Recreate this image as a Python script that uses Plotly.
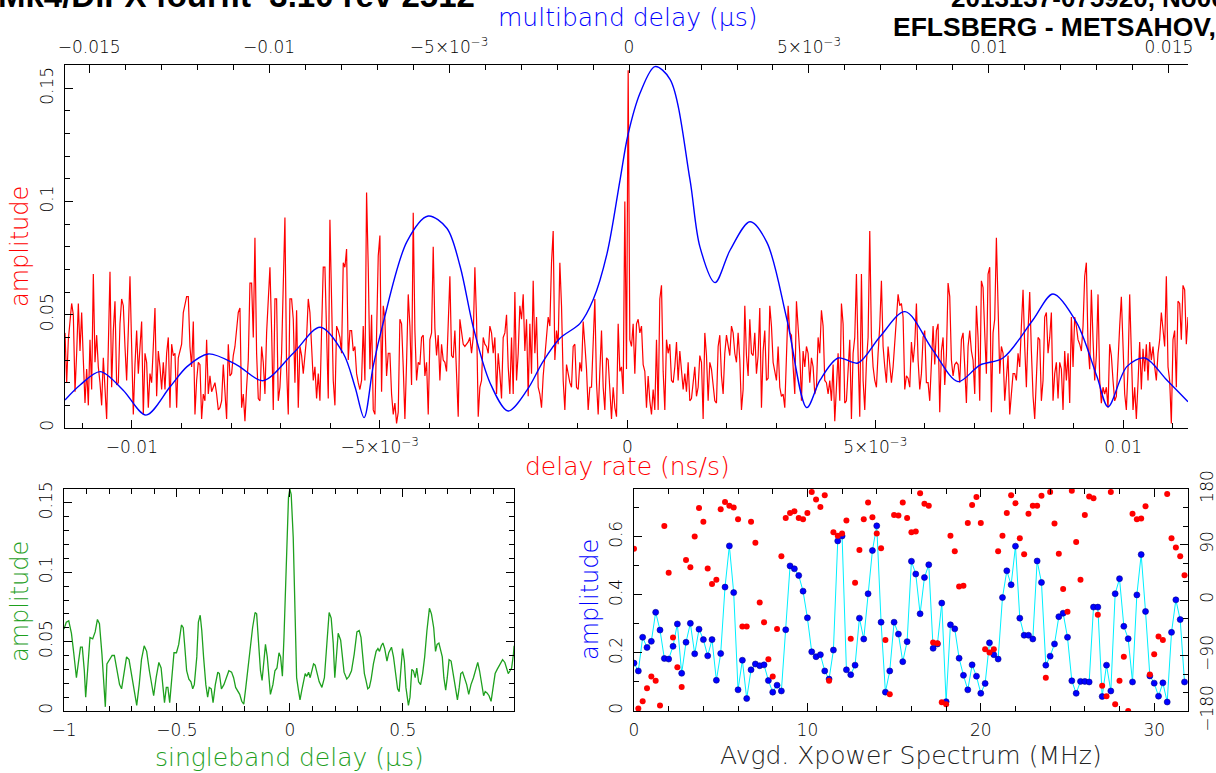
import numpy as np
import plotly.graph_objects as go

W, H = 1216, 773
FONT = "DejaVu Sans"
HEAD_FONT = "Liberation Sans"
RED, BLUE, GREEN, CYAN = "#ff0000", "#0000ff", "#1ea01e", "#00f0ff"

# ---------------------------------------------------------------------------
# Delay-rate amplitude (red), in units of 1e-3, on uniform delay-rate bins (ns/s)
rate_first, rate_last = -0.01135, 0.01131
rate_amp_milli = [
    42, 20, 39, 48, 55, 50, 16, 33, 55, 34, 51, 30, 11, 26, 10, 39, 17, 68, 29, 41,
    27, 20, 10, 31, 18, 4, 36, 69, 18, 43, 56, 19, 20, 46, 57, 54, 36, 21, 43, 67,
    36, 6, 28, 43, 24, 36, 47, 6, 33, 29, 9, 24, 20, 36, 53, 14, 34, 27, 17, 29,
    17, 33, 40, 9, 37, 32, 33, 9, 31, 34, 37, 51, 54, 58, 58, 36, 27, 47, 6, 21,
    29, 28, 4, 15, 12, 39, 15, 23, 16, 18, 20, 15, 8, 9, 12, 28, 14, 4, 37, 23,
    24, 32, 36, 45, 51, 53, 9, 15, 3, 18, 30, 64, 64, 40, 84, 33, 13, 12, 36, 29,
    15, 42, 58, 71, 43, 8, 57, 57, 12, 18, 33, 65, 93, 26, 6, 57, 57, 48, 20, 52,
    9, 36, 32, 24, 33, 40, 57, 51, 36, 21, 27, 13, 24, 12, 43, 71, 71, 40, 13, 92,
    61, 21, 10, 45, 43, 40, 33, 73,
    71, 79, 30, 43, 43, 34, 36, 24, 20, 17, 21, 45, 21, 104, 71, 26, 50, 8, 6, 51,
    76, 85, 16, 54, 48, 23, 33, 33, 15, 6, 11, 2, 7, 48, 46, 27, 4, 29, 59, 45,
    19, 95, 43, 21, 29, 28, 40, 41, 23, 29, 6, 39, 42, 80, 44, 32, 41, 21, 37, 30,
    29, 25, 51, 67, 32, 31, 43, 27, 5, 48, 43, 37, 36, 37, 38, 40, 33, 40, 71, 48,
    5, 18, 21, 40, 37, 36, 33, 45, 42, 33, 40, 15, 33, 24, 13, 40, 42, 50, 27, 15,
    40, 15, 60, 21, 33, 54, 48, 59, 34, 48, 14, 46, 24, 65, 33, 49, 18, 15, 9, 23,
    33, 41, 49, 45, 73, 87, 30, 43, 37, 73, 54, 21, 8, 28, 23, 20, 18, 36, 37, 18,
    17, 29, 25, 47, 37, 26, 8, 18, 18, 43, 57, 20, 6, 25, 43, 18, 8, 31, 30, 17,
    4, 18, 9, 5, 46, 25, 27,
    15, 100, 26, 158, 39, 36, 46, 24, 46, 48, 42, 45, 28, 25, 9, 23, 12, 6, 17, 8,
    39, 8, 57, 63, 25, 8, 39, 33, 37, 21, 20, 27, 38, 21, 34, 27, 17, 24, 16, 29,
    12, 13, 21, 27, 14, 18, 32, 29, 4, 42, 32, 12, 29, 26, 19, 12, 11, 36, 41, 23,
    15, 33, 41, 37, 32, 45, 42, 33, 29, 42, 30, 8, 17, 54, 32, 23, 48, 33, 32, 42,
    24, 32, 53, 9, 34, 43, 21, 22, 54, 45, 29, 25, 21, 36, 18, 14, 15, 9, 36, 54,
    42, 41, 27, 15, 56, 44, 33, 12, 34, 27, 36, 33, 20, 31, 27, 15, 18, 40, 33, 52,
    45, 21, 20, 15, 21, 12, 28, 3, 21, 33, 12, 55, 46, 11, 12, 27, 39, 4, 33, 40,
    68, 32, 5, 68, 21, 8, 29, 40, 87, 40, 27, 21, 18, 33, 45, 65, 36, 27, 20, 36,
    27, 20, 27, 37, 45, 59, 54, 55, 49, 17,
    23, 22, 18, 38, 29, 37, 55, 30, 17, 24, 40, 43, 20, 20, 12, 30, 45, 28, 43, 46,
    7, 34, 40, 19, 32, 64, 58, 30, 23, 28, 29, 28, 20, 39, 42, 27, 11, 36, 43, 34,
    30, 15, 54, 40, 12, 65, 62, 42, 24, 68, 71, 7, 42, 48, 84, 54, 24, 36, 33, 12,
    21, 32, 6, 15, 24, 24, 21, 33, 27, 45, 61, 36, 18, 43, 60, 34, 14, 4, 25, 40,
    39, 12, 21, 49, 51, 33, 40, 51, 12, 24, 29, 13, 29, 26, 8, 34, 21, 33, 11, 49,
    27, 49, 45, 39, 37, 34, 45, 67, 73, 36, 26, 61, 39, 21, 32, 59, 21, 11, 18, 15,
    18, 9, 37, 32, 21, 12, 14, 32, 45, 58, 40, 15, 8, 26, 59, 27, 8, 18, 4, 20,
    38, 17, 35, 25, 37, 21, 38, 30, 36, 27, 21, 33, 39, 51, 43, 36, 67, 27, 21, 2,
    39, 43, 18, 56, 55, 39, 63, 61, 37, 49,
]

# Multiband delay amplitude (blue): delay in microseconds and amplitude
mbd_us = [
    -0.01567, -0.01525, -0.01469, -0.01406, -0.01342, -0.01275, -0.01228, -0.01169,
    -0.01089, -0.01017, -0.00933, -0.00858, -0.00794, -0.00761, -0.00736, -0.00711,
    -0.00683, -0.00617, -0.00558, -0.00506, -0.00469, -0.00433, -0.00386, -0.00336,
    -0.00283, -0.00239, -0.00192, -0.00136, -0.00100, -0.00061, -0.00025, -0.00003,
    0.00031, 0.00072, 0.00114, 0.00169, 0.00197, 0.00239, 0.00281, 0.00336,
    0.00383, 0.00439, 0.00494, 0.00531, 0.00581, 0.00636, 0.00697, 0.00767,
    0.00844, 0.00914, 0.00975, 0.01039, 0.01122, 0.01178, 0.01244, 0.01300,
    0.01331, 0.01383, 0.01433, 0.01494, 0.01553,
]
mbd_amp = [
    0.0124, 0.0190, 0.0249, 0.0168, 0.0057, 0.0182, 0.0271, 0.0327,
    0.0278, 0.0209, 0.0330, 0.0445, 0.0330, 0.0180, 0.0046, 0.0271,
    0.0464, 0.0823, 0.0936, 0.0882, 0.0712, 0.0447, 0.0199, 0.0075,
    0.0168, 0.0293, 0.0396, 0.0462, 0.0565, 0.0771, 0.1095, 0.1294,
    0.1480, 0.1596, 0.1540, 0.1100, 0.0800, 0.0642, 0.0786, 0.0911,
    0.0820, 0.0477, 0.0090, 0.0212, 0.0309, 0.0287, 0.0403, 0.0514,
    0.0344, 0.0205, 0.0278, 0.0309, 0.0477, 0.0592, 0.0464, 0.0227,
    0.0094, 0.0271, 0.0309, 0.0212, 0.0116,
]

# Singleband delay amplitude (green)
sbd_us = [
    -1.000, -0.990, -0.979, -0.967, -0.957, -0.945, -0.937, -0.927, -0.919, -0.910,
    -0.904, -0.895, -0.885, -0.873, -0.862, -0.852, -0.843, -0.832, -0.825, -0.817,
    -0.810, -0.799, -0.787, -0.777, -0.765, -0.754, -0.745, -0.735, -0.723, -0.712,
    -0.702, -0.690, -0.678, -0.667, -0.657, -0.645, -0.634, -0.622, -0.612, -0.603,
    -0.592, -0.580, -0.570, -0.562, -0.555, -0.547, -0.540, -0.532, -0.522, -0.513,
    -0.502, -0.492, -0.480, -0.472, -0.465, -0.457, -0.447, -0.438, -0.430, -0.423,
    -0.412, -0.405, -0.397, -0.390, -0.382, -0.372, -0.364, -0.357, -0.348, -0.340,
    -0.330, -0.319, -0.312, -0.303, -0.292, -0.282, -0.270, -0.258, -0.249, -0.240,
    -0.231, -0.222, -0.213, -0.204, -0.195, -0.184, -0.175, -0.165, -0.154, -0.147,
    -0.138, -0.130, -0.123, -0.115, -0.108, -0.100, -0.093, -0.086, -0.075, -0.066,
    -0.057, -0.048, -0.041, -0.033, -0.026, -0.015, -0.006, 0.000, 0.006, 0.015,
    0.024, 0.030, 0.038, 0.045, 0.053, 0.060, 0.068, 0.075, 0.083, 0.090,
    0.098, 0.105, 0.112, 0.120, 0.130, 0.142, 0.153, 0.165, 0.174, 0.183,
    0.192, 0.199, 0.207, 0.214, 0.225, 0.232, 0.240, 0.252, 0.262, 0.273,
    0.285, 0.297, 0.307, 0.315, 0.322, 0.330, 0.337, 0.345, 0.352, 0.360,
    0.370, 0.382, 0.390, 0.397, 0.405, 0.412, 0.420, 0.430, 0.438, 0.450,
    0.459, 0.468, 0.477, 0.484, 0.492, 0.499, 0.507, 0.514, 0.525, 0.532,
    0.540, 0.547, 0.555, 0.562, 0.570, 0.579, 0.588, 0.597, 0.607, 0.618,
    0.627, 0.637, 0.645, 0.652, 0.660, 0.667, 0.675, 0.682, 0.690, 0.697,
    0.705, 0.714, 0.723, 0.732, 0.742, 0.750, 0.757, 0.765, 0.774, 0.783,
    0.792, 0.802, 0.813, 0.822, 0.832, 0.840, 0.850, 0.858, 0.865, 0.873,
    0.882, 0.891, 0.900, 0.909, 0.918, 0.930, 0.942, 0.952, 0.960, 0.967,
    0.975, 0.982, 0.990, 0.993,
]
sbd_amp = [
    0.059, 0.064, 0.065, 0.056, 0.042, 0.024, 0.034, 0.046, 0.046, 0.029,
    0.010, 0.034, 0.053, 0.052, 0.057, 0.066, 0.063, 0.041, 0.019, 0.003,
    0.034, 0.037, 0.040, 0.040, 0.029, 0.019, 0.016, 0.027, 0.039, 0.037,
    0.027, 0.015, 0.004, 0.019, 0.037, 0.047, 0.043, 0.029, 0.019, 0.011,
    0.024, 0.035, 0.031, 0.019, 0.006, 0.017, 0.017, 0.006, 0.024, 0.042,
    0.042, 0.048, 0.062, 0.060, 0.046, 0.029, 0.023, 0.021, 0.016, 0.019,
    0.039, 0.064, 0.069, 0.058, 0.039, 0.019, 0.010, 0.017, 0.016, 0.006,
    0.019, 0.028, 0.027, 0.016, 0.019, 0.024, 0.029, 0.028, 0.024, 0.017,
    0.014, 0.012, 0.007, 0.005, 0.017, 0.034, 0.048, 0.060, 0.071, 0.070,
    0.048, 0.029, 0.022, 0.037, 0.048, 0.039, 0.022, 0.012, 0.019, 0.029,
    0.031, 0.042, 0.039, 0.025, 0.053, 0.113, 0.154, 0.160, 0.156, 0.125,
    0.070, 0.024, 0.015, 0.008, 0.015, 0.022, 0.027, 0.025, 0.028, 0.024,
    0.030, 0.034, 0.033, 0.028, 0.021, 0.017, 0.024, 0.051, 0.071, 0.067,
    0.049, 0.024, 0.042, 0.056, 0.051, 0.041, 0.028, 0.023, 0.025, 0.029,
    0.041, 0.057, 0.058, 0.053, 0.039, 0.027, 0.022, 0.016, 0.017, 0.023,
    0.034, 0.043, 0.045, 0.043, 0.047, 0.049, 0.045, 0.036, 0.042, 0.046,
    0.039, 0.029, 0.016, 0.014, 0.033, 0.045, 0.036, 0.017, 0.004, 0.010,
    0.030, 0.029, 0.024, 0.031, 0.021, 0.019, 0.027, 0.039, 0.058, 0.074,
    0.070, 0.060, 0.043, 0.048, 0.049, 0.045, 0.039, 0.024, 0.015, 0.024,
    0.037, 0.036, 0.027, 0.017, 0.008, 0.017, 0.027, 0.028, 0.024, 0.019,
    0.012, 0.019, 0.024, 0.029, 0.035, 0.029, 0.019, 0.011, 0.014, 0.013,
    0.011, 0.007, 0.017, 0.027, 0.030, 0.034, 0.037, 0.035, 0.030, 0.027,
    0.029, 0.031, 0.041, 0.047,
]

# Averaged cross-power spectrum: 128 channels of 0.25 MHz
spec_chan_mhz = 0.25
spec_amp = [
    0.165, 0.138, 0.254, 0.219, 0.240, 0.340, 0.279, 0.181, 0.179, 0.223,
    0.300, 0.130, 0.237, 0.302, 0.197, 0.282, 0.246, 0.190, 0.246, 0.106,
    0.198, 0.427, 0.569, 0.408, 0.073, 0.175, 0.043, 0.142, 0.162, 0.156,
    0.159, 0.105, 0.065, 0.089, 0.069, 0.280, 0.500, 0.490, 0.467, 0.413,
    0.321, 0.204, 0.187, 0.194, 0.138, 0.110, 0.210, 0.586, 0.603, 0.142,
    0.125, 0.158, 0.320, 0.248, 0.404, 0.553, 0.638, 0.306, 0.065, 0.138,
    0.306, 0.265, 0.170, 0.239, 0.516, 0.472, 0.335, 0.460, 0.504, 0.216,
    0.231, 0.372, 0.032, 0.297, 0.283, 0.182, 0.123, 0.073, 0.159, 0.120,
    0.061, 0.095, 0.235, 0.194, 0.179, 0.391, 0.483, 0.435, 0.568, 0.320,
    0.261, 0.261, 0.248, 0.517, 0.443, 0.158, 0.189, 0.231, 0.325, 0.337,
    0.254, 0.104, 0.061, 0.102, 0.102, 0.100, 0.358, 0.358, 0.050, 0.158,
    0.069, 0.404, 0.456, 0.292, 0.249, 0.100, 0.400, 0.539, 0.343, 0.121,
    0.096, 0.051, 0.097, 0.031, 0.271, 0.383, 0.315, 0.100,
]
spec_phase_deg = [
    83, -176, -164, -143, -124, -131, -171, 120, 44, -61,
    -109, -141, 65, 53, 103, 149, 127, 51, 26, 33,
    147, 159, 153, 150, 131, -43, -43, 127, 93, -4,
    -36, -96, -124, -47, 71, 133, 141, 144, 133, 131,
    141, 175, 163, 151, 170, -131, 110, 104, 108, 129,
    -63, 28, 81, 131, 158, 134, 108, 84, -65, -153,
    138, 137, 158, 133, 110, 111, 173, 156, 153, -69,
    -70, -166, -169, 104, 79, 22, 23, 125, 154, 167,
    125, -80, -85, -80, 79, 104, 141, 170, 157, 100,
    74, 140, 153, 153, 169, -126, 175, 124, 75, 18,
    -19, 177, 94, 33, 138, 168, 165, -24, -139, -156,
    175, -169, -131, -92, -180, 140, 131, 132, 152, -121,
    -88, -59, -65, 172, 100, 85, 71, 40,
]

# ---------------------------------------------------------------------------
rate_x = np.linspace(rate_first, rate_last, len(rate_amp_milli))
rate_y = np.asarray(rate_amp_milli) / 1000.0
freq_mhz = np.arange(len(spec_amp)) * spec_chan_mhz

fig = go.Figure()
fig.add_trace(go.Scatter(x=rate_x, y=rate_y, mode="lines",
                         line=dict(color=RED, width=1.2), xaxis="x", yaxis="y"))
fig.add_trace(go.Scatter(x=mbd_us, y=mbd_amp, mode="lines",
                         line=dict(color=BLUE, width=1.4, shape="spline", smoothing=0.9),
                         xaxis="x2", yaxis="y"))
fig.add_trace(go.Scatter(x=sbd_us, y=sbd_amp, mode="lines",
                         line=dict(color=GREEN, width=1.3), xaxis="x3", yaxis="y3"))
fig.add_trace(go.Scatter(x=freq_mhz, y=spec_amp, mode="lines+markers",
                         line=dict(color=CYAN, width=1),
                         marker=dict(color=BLUE, size=6, line=dict(width=0.6, color="#000090")),
                         xaxis="x4", yaxis="y4"))
fig.add_trace(go.Scatter(x=freq_mhz, y=spec_phase_deg, mode="markers",
                         marker=dict(color=RED, size=6, line=dict(width=0)),
                         xaxis="x4", yaxis="y5"))


def dom_x(left, right):
    return [left / W, right / W]


def dom_y(top, bottom):
    return [1 - bottom / H, 1 - top / H]


TICKFONT = dict(family=FONT, size=17, color="black", weight=300)


def axis(**kw):
    base = dict(showline=True, linecolor="black", linewidth=1, ticks="inside",
                ticklen=8, tickwidth=1, tickcolor="black", showgrid=False,
                zeroline=False, tickmode="array", tickfont=TICKFONT,
                fixedrange=True, automargin=False, ticklabelstandoff=4)
    base.update(kw)
    return base


def minor(step):
    return dict(ticks="inside", ticklen=5, tickwidth=1, tickcolor="black",
                tick0=0, dtick=step, showgrid=False)


SUP3 = "×10<sup>−3</sup>"
amp_ticks = [0, 0.05, 0.1, 0.15]
amp_text = ["0", "0.05", "0.1", "0.15"]

layout_axes = dict(
    # delay rate (bottom of the upper panel)
    xaxis=axis(domain=dom_x(65, 1188), anchor="y", range=[rate_first, rate_last],
               tickvals=[-0.01, -0.005, 0, 0.005, 0.01],
               ticktext=["−0.01", "−5" + SUP3, "0", "5" + SUP3, "0.01"],
               minor=minor(0.001)),
    # multiband delay (top of the upper panel)
    xaxis2=axis(overlaying="x", side="top", anchor="y", range=[-0.01567, 0.01553],
                tickvals=[-0.015, -0.01, -0.005, 0, 0.005, 0.01, 0.015],
                ticktext=["−0.015", "−0.01", "−5" + SUP3, "0", "5" + SUP3, "0.01", "0.015"],
                minor=minor(0.001)),
    yaxis=axis(domain=dom_y(65, 428), anchor="x", range=[0, 0.1603],
               tickvals=amp_ticks, ticktext=amp_text, tickangle=-90, minor=minor(0.01)),
    yaxis2=axis(overlaying="y", side="right", anchor="x", range=[0, 0.1603],
                tickvals=amp_ticks, ticktext=amp_text, tickangle=-90, minor=minor(0.01)),
    # singleband delay panel
    xaxis3=axis(domain=dom_x(64, 514), anchor="y3", range=[-1, 0.9925], mirror="ticks",
                tickvals=[-1, -0.5, 0, 0.5], ticktext=["−1", "−0.5", "0", "0.5"],
                minor=minor(0.1)),
    yaxis3=axis(domain=dom_y(489, 711), anchor="x3", range=[0, 0.16], mirror="ticks",
                tickvals=amp_ticks, ticktext=amp_text, tickangle=-90, minor=minor(0.01)),
    # cross-power spectrum panel
    xaxis4=axis(domain=dom_x(634, 1188), anchor="y4", range=[0, 31.95], mirror="ticks",
                tickvals=[0, 10, 20, 30], ticktext=["0", "10", "20", "30"],
                minor=minor(2)),
    yaxis4=axis(domain=dom_y(489, 711), anchor="x4", range=[0, 0.765], side="left",
                tickvals=[0, 0.2, 0.4, 0.6], ticktext=["0", "0.2", "0.4", "0.6"],
                tickangle=-90, minor=minor(0.1)),
    yaxis5=axis(overlaying="y4", side="right", anchor="x4", range=[-180, 180],
                tickvals=[-180, -90, 0, 90, 180],
                ticktext=["−180", "−90", "0", "90", "180"],
                tickangle=-90, minor=minor(30)),
)


def label(text, x, y, color, size=24, angle=0, family=FONT, xanchor="center",
          yanchor="middle", weight=300):
    return dict(text=text, x=x / W, y=1 - y / H, xref="paper", yref="paper",
                showarrow=False, textangle=angle, xanchor=xanchor, yanchor=yanchor,
                font=dict(family=family, size=size, color=color, weight=weight))


annotations = [
    label("amplitude", 20, 247, RED, angle=-90),
    label("delay rate (ns/s)", 627, 466, RED, size=25),
    label("multiband delay (μs)", 627, 18, BLUE, size=25),
    label("amplitude", 20, 602, GREEN, angle=-90),
    label("singleband delay (μs)", 289, 757, GREEN, size=25),
    label("amplitude", 590, 600, BLUE, angle=-90),
    label("Avgd. Xpower Spectrum (MHz)", 911, 755, "#222222", size=25),
    label("Mk4/DiFX fourfit  3.10 rev 2512", 477, -4, "black", size=33,
          family=HEAD_FONT, xanchor="right", weight="bold"),
    label("2013137-075920, No0003, EM", 949, -2, "black", size=26,
          family=HEAD_FONT, xanchor="left", weight="bold"),
    label("EFLSBERG - METSAHOV, fgroup X, pol LL", 891, 27, "black", size=26.5,
          family=HEAD_FONT, xanchor="left", weight="bold"),
]

fig.update_layout(
    width=W, height=H, autosize=False,
    margin=dict(l=0, r=0, t=0, b=0),
    paper_bgcolor="white", plot_bgcolor="white",
    showlegend=False,
    annotations=annotations,
    **layout_axes,
)

fig.write_html("out.html")
